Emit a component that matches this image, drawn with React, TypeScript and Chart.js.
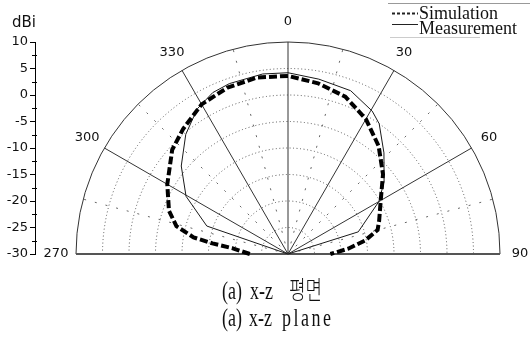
import React, { useEffect, useRef } from 'react';
import { Chart, registerables } from 'chart.js';

Chart.register(...registerables);

// ---- data ----
const seriesNames = ['Simulation', 'Measurement'];
const radialTicks = [10, 5, 0, -5, -10, -15, -20, -25, -30];
const angleLabels = [270, 300, 330, 0, 30, 60, 90];

const simAngles = [270, 276, 278, 280, 284, 290, 300, 312, 320, 330, 340, 350, 0, 10, 20, 30, 40, 50, 60, 70, 75, 80, 85, 90];
const simValues = [-22.8, -19.4, -15.6, -11.9, -8.3, -6.1, -3.7, -0.6, 0.8, 2.6, 3.4, 3.8, 3.6, 2.7, 1.6, -0.6, -3.4, -6.6, -9.8, -11.7, -12.5, -15.2, -18.6, -22];

const measAngles = [280, 289, 299.5, 309.5, 319.5, 328, 335, 341, 352, 0, 10, 21, 30.5, 35, 43.5, 53, 60, 72.5, 80];
const measValues = [-30, -13.8, -7.9, -3.9, -0.3, 2.3, 3.6, 4.0, 4.3, 4.2, 3.5, 3.0, 1.3, 0.0, -3.7, -7.3, -10.2, -16.1, -30];

const captionKo = ['(a)', 'x-z', '평면'];
const captionEn = ['(a)', 'x-z', 'plane'];

// ---- layout constants ----
const W = 530;
const H = 349;
const PLOT_LEFT = 35;
const PLOT_RIGHT = 520;
const PLOT_TOP = 42;
const PLOT_BOTTOM = 254;
const CENTER_X = 288;

const R_MIN = Math.min(...radialTicks);
const R_MAX = Math.max(...radialTicks);
const SPAN = R_MAX - R_MIN;
const K = (PLOT_BOTTOM - PLOT_TOP) / SPAN;
const X_MIN = -(CENTER_X - PLOT_LEFT) / K;
const X_MAX = (PLOT_RIGHT - CENTER_X) / K;

const signed = (a: number) => (a > 180 ? a - 360 : a);
const toXY = (angles: number[], values: number[]) =>
  angles.map((a, i) => {
    const r = values[i] - R_MIN;
    const t = (signed(a) * Math.PI) / 180;
    return { x: r * Math.sin(t), y: r * Math.cos(t) };
  });

const NUM_FONT = "'DejaVu Sans', 'Liberation Sans', sans-serif";
const SERIF_FONT = "'Liberation Serif', 'Noto Sans CJK KR', serif";

const polarPlugin = {
  id: 'polarGrid',
  beforeDatasetsDraw(chart: any) {
    const { ctx } = chart;
    const xs = chart.scales.x;
    const ys = chart.scales.y;
    const cx = xs.getPixelForValue(0);
    const cy = ys.getPixelForValue(0);
    const rad = (v: number) => cy - ys.getPixelForValue(v - R_MIN);
    const R = rad(R_MAX);
    ctx.save();
    // rings
    radialTicks.forEach((t) => {
      if (t === R_MIN) return;
      const r = rad(t);
      ctx.beginPath();
      ctx.arc(cx, cy, r, Math.PI, 2 * Math.PI);
      if (t === R_MAX) {
        ctx.setLineDash([]);
        ctx.strokeStyle = '#333';
        ctx.lineWidth = 1;
      } else {
        ctx.setLineDash([1, 2.5]);
        ctx.strokeStyle = '#555';
        ctx.lineWidth = 1;
      }
      ctx.stroke();
    });
    // minor spokes (midway between labelled angles)
    ctx.setLineDash([2, 9]);
    ctx.strokeStyle = '#666';
    ctx.lineWidth = 1;
    for (let i = 0; i < angleLabels.length - 1; i++) {
      const a0 = signed(angleLabels[i]);
      const a1 = signed(angleLabels[i + 1]);
      const t = (((a0 + a1) / 2) * Math.PI) / 180;
      ctx.beginPath();
      ctx.moveTo(cx, cy);
      ctx.lineTo(cx + R * Math.sin(t), cy - R * Math.cos(t));
      ctx.stroke();
    }
    // major spokes
    ctx.setLineDash([]);
    ctx.strokeStyle = '#333';
    ctx.lineWidth = 1;
    angleLabels.forEach((a) => {
      const s = signed(a);
      if (Math.abs(s) === 90) return;
      const t = (s * Math.PI) / 180;
      ctx.beginPath();
      ctx.moveTo(cx, cy);
      ctx.lineTo(cx + R * Math.sin(t), cy - R * Math.cos(t));
      ctx.stroke();
    });
    // baseline 270-90
    ctx.strokeStyle = '#555';
    ctx.lineWidth = 2;
    ctx.beginPath();
    ctx.moveTo(cx - R, cy);
    ctx.lineTo(cx + R, cy);
    ctx.stroke();
    ctx.restore();
  },
  afterDraw(chart: any) {
    const { ctx } = chart;
    const xs = chart.scales.x;
    const ys = chart.scales.y;
    const cx = xs.getPixelForValue(0);
    const cy = ys.getPixelForValue(0);
    const rad = (v: number) => cy - ys.getPixelForValue(v - R_MIN);
    const R = rad(R_MAX);
    ctx.save();
    // angle labels
    ctx.fillStyle = '#111';
    ctx.font = `13px ${NUM_FONT}`;
    ctx.textAlign = 'center';
    ctx.textBaseline = 'middle';
    angleLabels.forEach((a) => {
      const t = (signed(a) * Math.PI) / 180;
      const d = R + 20;
      ctx.fillText(String(a), cx + d * Math.sin(t), cy - d * Math.cos(t));
    });
    // y axis title
    ctx.font = `15px ${NUM_FONT}`;
    ctx.textAlign = 'left';
    ctx.textBaseline = 'alphabetic';
    ctx.fillText('dBi', 12, 26.5);
    // minor ticks on y axis
    ctx.strokeStyle = '#000';
    ctx.lineWidth = 1;
    const axX = ys.right;
    for (let v = 2.5; v < SPAN; v += 5) {
      const py = Math.round(ys.getPixelForValue(v)) + 0.5;
      ctx.beginPath();
      ctx.moveTo(axX - 3, py);
      ctx.lineTo(axX + 2, py);
      ctx.stroke();
    }
    // legend
    ctx.strokeStyle = '#999';
    ctx.lineWidth = 1;
    ctx.beginPath();
    ctx.moveTo(388, 3.5);
    ctx.lineTo(530, 3.5);
    ctx.stroke();
    ctx.strokeStyle = '#ccc';
    ctx.beginPath();
    ctx.moveTo(390, 37.5);
    ctx.lineTo(480, 37.5);
    ctx.stroke();
    const ds = chart.data.datasets;
    const rows = [
      { lineY: 13.5, textY: 18.5, width: 2, dash: [3, 2] },
      { lineY: 24.5, textY: 33.5, width: 1, dash: [] as number[] },
    ];
    ctx.font = `18px ${SERIF_FONT}`;
    ctx.fillStyle = '#111';
    ds.forEach((d: any, i: number) => {
      const row = rows[i];
      ctx.strokeStyle = '#222';
      ctx.lineWidth = row.width;
      ctx.setLineDash(row.dash);
      ctx.beginPath();
      ctx.moveTo(392, row.lineY);
      ctx.lineTo(418, row.lineY);
      ctx.stroke();
      ctx.setLineDash([]);
      ctx.fillText(d.label, 419, row.textY);
    });
    ctx.restore();
  },
};

function Caption({ words, top, lefts, spacing }: { words: string[]; top: number; lefts: number[]; spacing: number[] }) {
  return (
    <>
      {words.map((w, i) => (
        <span
          key={i}
          style={{
            position: 'absolute',
            left: lefts[i],
            top,
            fontFamily: SERIF_FONT,
            fontSize: 25,
            fontWeight: 300,
            lineHeight: '25px',
            letterSpacing: spacing[i],
            transform: 'scaleX(0.72)',
            transformOrigin: 'left top',
            whiteSpace: 'nowrap',
            color: '#111',
          }}
        >
          {w}
        </span>
      ))}
    </>
  );
}

export default function App() {
  const ref = useRef<HTMLCanvasElement | null>(null);
  useEffect(() => {
    document.body.style.margin = '0';
    if (!ref.current) return;
    const chart = new Chart(ref.current, {
      type: 'scatter',
      data: {
        datasets: [
          {
            label: seriesNames[0],
            data: toXY(simAngles, simValues),
            showLine: true,
            borderColor: '#000',
            borderWidth: 4,
            borderDash: [8, 3],
            pointRadius: 0,
            tension: 0,
            clip: 8,
          } as any,
          {
            label: seriesNames[1],
            data: toXY(measAngles, measValues),
            showLine: true,
            borderColor: '#1a1a1a',
            borderWidth: 1,
            pointRadius: 0,
            tension: 0,
            clip: 8,
          } as any,
        ],
      },
      options: {
        responsive: false,
        animation: false,
        devicePixelRatio: 1,
        layout: { padding: { left: 0, right: W - PLOT_RIGHT, top: PLOT_TOP, bottom: H - PLOT_BOTTOM } },
        plugins: { legend: { display: false }, tooltip: { enabled: false } },
        scales: {
          x: { type: 'linear', display: false, min: X_MIN, max: X_MAX },
          y: {
            type: 'linear',
            min: 0,
            max: SPAN,
            afterFit: (s: any) => {
              s.width = PLOT_LEFT;
            },
            ticks: {
              stepSize: 5,
              callback: (v: any) => String(Number(v) + R_MIN),
              font: { family: NUM_FONT, size: 13 },
              color: '#111',
              padding: 2,
            },
            grid: { drawOnChartArea: false, drawTicks: true, tickLength: 5, color: '#000' },
            border: { display: true, color: '#000', width: 1 },
          },
        },
      } as any,
      plugins: [polarPlugin],
    });
    return () => chart.destroy();
  }, []);
  return (
    <div style={{ position: 'relative', width: W, height: H, background: '#fff', overflow: 'hidden' }}>
      <canvas ref={ref} width={W} height={H} style={{ position: 'absolute', left: 0, top: 0 }} />
      <Caption words={captionKo} top={278} lefts={[222, 250, 289]} spacing={[0, 0, 0]} />
      <Caption words={captionEn} top={304.5} lefts={[222, 249, 282]} spacing={[0, 0, 3.5]} />
    </div>
  );
}
